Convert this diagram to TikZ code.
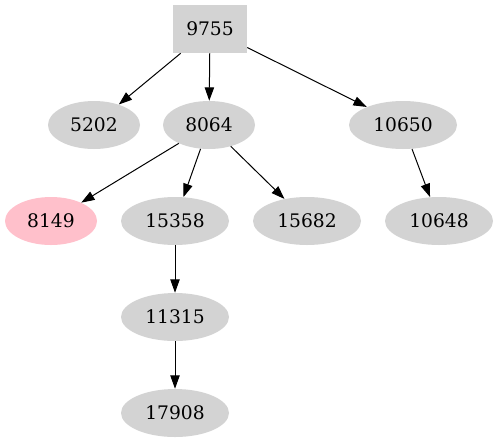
\documentclass[tikz,border=0pt]{standalone}
\usepackage{fontspec}
\setmainfont{DejaVu Serif}
\usetikzlibrary{arrows.meta,shapes.geometric}
\definecolor{nodegray}{HTML}{D3D3D3}
\definecolor{nodepink}{HTML}{FFC0CB}

\begin{document}
\begin{tikzpicture}[x=0.75pt, y=-0.75pt, font=\fontsize{14}{16}\selectfont,
  rootbox/.style={rectangle, fill=nodegray, minimum width=55.5pt, minimum height=36pt, inner sep=0pt},
  leaf/.style={ellipse, fill=nodegray, minimum width=69pt, minimum height=36pt, inner sep=0pt},
  wideleaf/.style={leaf, minimum width=81pt},
  edge/.style={-{Triangle[length=10pt, width=7pt]}, line width=0.75pt}]
  \useasboundingbox (0,0) rectangle (498,443);

  % 根：方框
  \node[rootbox] (n9755) at (210,29) {9755};

  % 第二层
  \node[leaf] (n5202) at (94,125) {5202};
  \node[leaf] (n8064) at (209,125) {8064};
  \node[wideleaf] (n10650) at (403,125) {10650};

  % 第三层（8149 为粉色）
  \node[leaf, fill=nodepink] (n8149) at (51,221) {8149};
  \node[wideleaf] (n15358) at (175,221) {15358};
  \node[wideleaf] (n15682) at (307,221) {15682};
  \node[wideleaf] (n10648) at (439,221) {10648};

  % 下面一串
  \node[wideleaf] (n11315) at (175,317) {11315};
  \node[wideleaf] (n17908) at (175,413) {17908};

  % 边
  \draw[edge] (n9755) -- (n5202);
  \draw[edge] (n9755) -- (n8064);
  \draw[edge] (n9755) -- (n10650);
  \draw[edge] (n8064) -- (n8149);
  \draw[edge] (n8064) -- (n15358);
  \draw[edge] (n8064) -- (n15682);
  \draw[edge] (n10650) -- (n10648);
  \draw[edge] (n15358) -- (n11315);
  \draw[edge] (n11315) -- (n17908);
\end{tikzpicture}
\end{document}
